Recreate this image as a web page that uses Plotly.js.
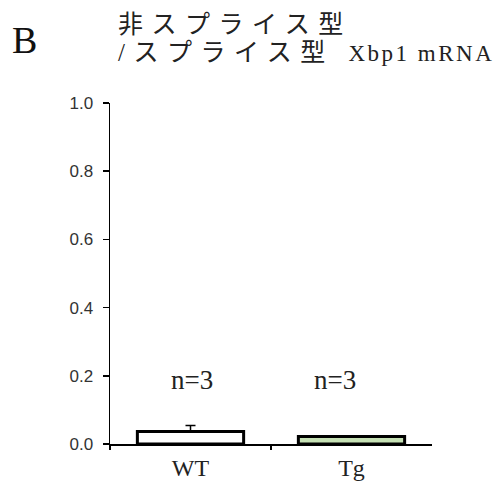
<!DOCTYPE html>
<html>
<head>
<meta charset="utf-8">
<script src="https://cdn.plot.ly/plotly-3.0.1.min.js"></script>
<style>
  html, body { margin: 0; padding: 0; background: #fff; }
  #chart { width: 494px; height: 481px; }
</style>
</head>
<body>
<div id="chart"></div>
<script>
// Unspliced / spliced Xbp1 mRNA ratio per genotype
const groups = ['WT', 'Tg'];
const ratio = [0.037, 0.022];
const ratioErr = [0.017, 0.002];
const nLabels = ['n=3', 'n=3'];
const nLabelPos = [0.01, 0.9];
const nLabelY = [0.187, 0.187];
const barColors = ['#ffffff', '#c5e0b4'];
const yTicks = [0, 0.2, 0.4, 0.6, 0.8, 1.0];
const boundaryTicks = [-0.5, 0.5];
const panelLetter = 'B';
const titleLines = ['非スプライス型', '/スプライス型', 'Xbp1 mRNA'];

const serif = '"Liberation Serif", "Noto Sans CJK JP", serif';
const sans = '"Liberation Sans", Arial, sans-serif';

const xIdx = groups.map((_, i) => i);

const bars = {
  type: 'bar',
  x: xIdx,
  y: ratio,
  width: 0.66,
  marker: { color: barColors, line: { color: '#000', width: 3 } },
  error_y: {
    type: 'data', symmetric: false, array: ratioErr,
    arrayminus: ratioErr.map(() => 0),
    color: '#000', thickness: 1.5, width: 5
  },
  hoverinfo: 'skip',
  showlegend: false
};

// invisible helper trace so the overlaying boundary-tick axis is drawn
const boundaryAxis = {
  type: 'scatter', x: boundaryTicks, y: [0, 0], xaxis: 'x2',
  mode: 'markers', marker: { opacity: 0 }, hoverinfo: 'skip', showlegend: false
};

const annotations = nLabels.map((t, i) => ({
  text: t, x: nLabelPos[i], y: nLabelY[i], xref: 'x', yref: 'y',
  showarrow: false, xanchor: 'center', yanchor: 'middle',
  font: { family: serif, size: 27, color: '#222' }
}));

// panel letter
annotations.push({
  text: panelLetter, xref: 'paper', yref: 'paper', x: -0.31, y: 1.185,
  xanchor: 'left', yanchor: 'middle', showarrow: false,
  font: { family: serif, size: 38, color: '#111' }
});

// chart title in two lines, left aligned above the plot (wide-set Japanese text)
const wide = s => '<span style="letter-spacing:8.5px">' + s + '</span>';
const latin = s => '<span style="font-size:23px;letter-spacing:2.5px">' + s + '</span>';
const titleFont = { family: serif, size: 25, color: '#222' };
annotations.push({
  text: wide(titleLines[0]),
  xref: 'paper', yref: 'paper', x: 0.018, y: 1.231,
  xanchor: 'left', yanchor: 'middle', align: 'left', showarrow: false,
  font: titleFont
});
annotations.push({
  text: wide(titleLines[1] + ' ') + latin(titleLines[2]),
  xref: 'paper', yref: 'paper', x: 0.018, y: 1.148,
  xanchor: 'left', yanchor: 'middle', align: 'left', showarrow: false,
  font: titleFont
});

const layout = {
  width: 494, height: 481,
  margin: { l: 110, r: 62, t: 103, b: 37 },
  paper_bgcolor: '#fff', plot_bgcolor: '#fff',
  xaxis: {
    range: [-0.5, 1.5], tickvals: xIdx, ticktext: groups,
    ticks: '', showline: true, linecolor: '#000', linewidth: 1.5,
    showgrid: false, zeroline: false, ticklabelstandoff: 2,
    tickfont: { family: serif, size: 24, color: '#222' }
  },
  xaxis2: {
    overlaying: 'x', matches: 'x', side: 'bottom',
    tickvals: boundaryTicks, showticklabels: false,
    ticks: 'outside', ticklen: 5, tickwidth: 1.5, tickcolor: '#000',
    showline: false, showgrid: false, zeroline: false
  },
  yaxis: {
    range: [0, 1], tickvals: yTicks, tickformat: '.1f',
    ticks: 'outside', ticklen: 6, tickwidth: 1.5, tickcolor: '#000',
    showline: true, linecolor: '#000', linewidth: 1.5,
    showgrid: false, zeroline: false, ticklabelstandoff: 6,
    tickfont: { family: sans, size: 17, color: '#333' }
  },
  annotations: annotations
};

Plotly.newPlot('chart', [bars, boundaryAxis], layout, { staticPlot: true, displayModeBar: false });
</script>
</body>
</html>
